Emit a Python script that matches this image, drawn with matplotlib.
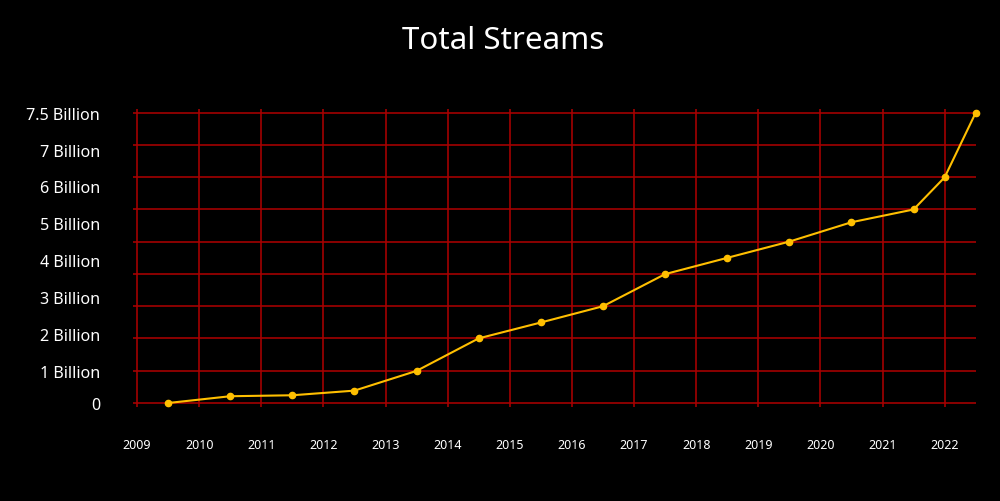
import numpy as np
import matplotlib
matplotlib.use("Agg")
import matplotlib.pyplot as plt

# data (billions of streams)
years = [2009.5, 2010.5, 2011.5, 2012.5, 2013.5, 2014.5, 2015.5, 2016.5,
         2017.5, 2018.5, 2019.5, 2020.5, 2021.5, 2022.0, 2022.5]
streams = [0.0, 0.175, 0.2, 0.32, 0.83, 1.67, 2.08, 2.5,
           3.33, 3.75, 4.17, 4.67, 5.0, 5.83, 7.5]
year_labels = [str(y) for y in range(2009, 2023)]
y_labels = ["0", "1 Billion", "2 Billion", "3 Billion", "4 Billion",
            "5 Billion", "6 Billion", "7 Billion", "7.5 Billion"]

plt.rcParams['font.family'] = ['Noto Sans', 'DejaVu Sans']

GRID = "#AA0000"
LINE = "#FFBF00"

fig = plt.figure(figsize=(10, 5.02), dpi=100, facecolor="black")
ax = fig.add_axes([0.137, 0.1952, 0.8387, 0.5783], facecolor="black")

ymax = 7.5
xmin, xmax = 2009, 2022.5
ax.set_xlim(xmin, xmax)
ax.set_ylim(0, ymax)

# grid lines (slightly overshooting the plot area like tick marks)
grid_y = np.linspace(0, ymax, 10)
year_pos = np.arange(2009, 2023)
ax.hlines(grid_y, xmin - 0.065, xmax, colors=GRID, lw=1.15, clip_on=False, zorder=1)
ax.vlines(year_pos, -0.1, ymax + 0.1, colors=GRID, lw=1.15, clip_on=False, zorder=1)

ax.plot(years, streams, color=LINE, lw=1.5, marker="o", markersize=4.5,
        clip_on=False, zorder=3)

for s in ax.spines.values():
    s.set_visible(False)

ax.set_xticks(year_pos)
ax.set_xticklabels(year_labels, color="white", fontsize=9)
ax.tick_params(axis="x", length=0, pad=25)

# y labels: 0 at the bottom, the rest evenly spread up to the top line
ytick_pos = [0] + list(np.linspace(ymax / 9, ymax, 8))
ax.set_yticks(ytick_pos)
ax.set_yticklabels(y_labels, color="white", fontsize=11.6)
ax.tick_params(axis="y", length=0, pad=26.5)

fig.text(0.503, 0.918, "Total Streams", color="white", fontsize=22.5,
         ha="center", va="center")

fig.savefig("out.png", dpi=100, facecolor="black")
